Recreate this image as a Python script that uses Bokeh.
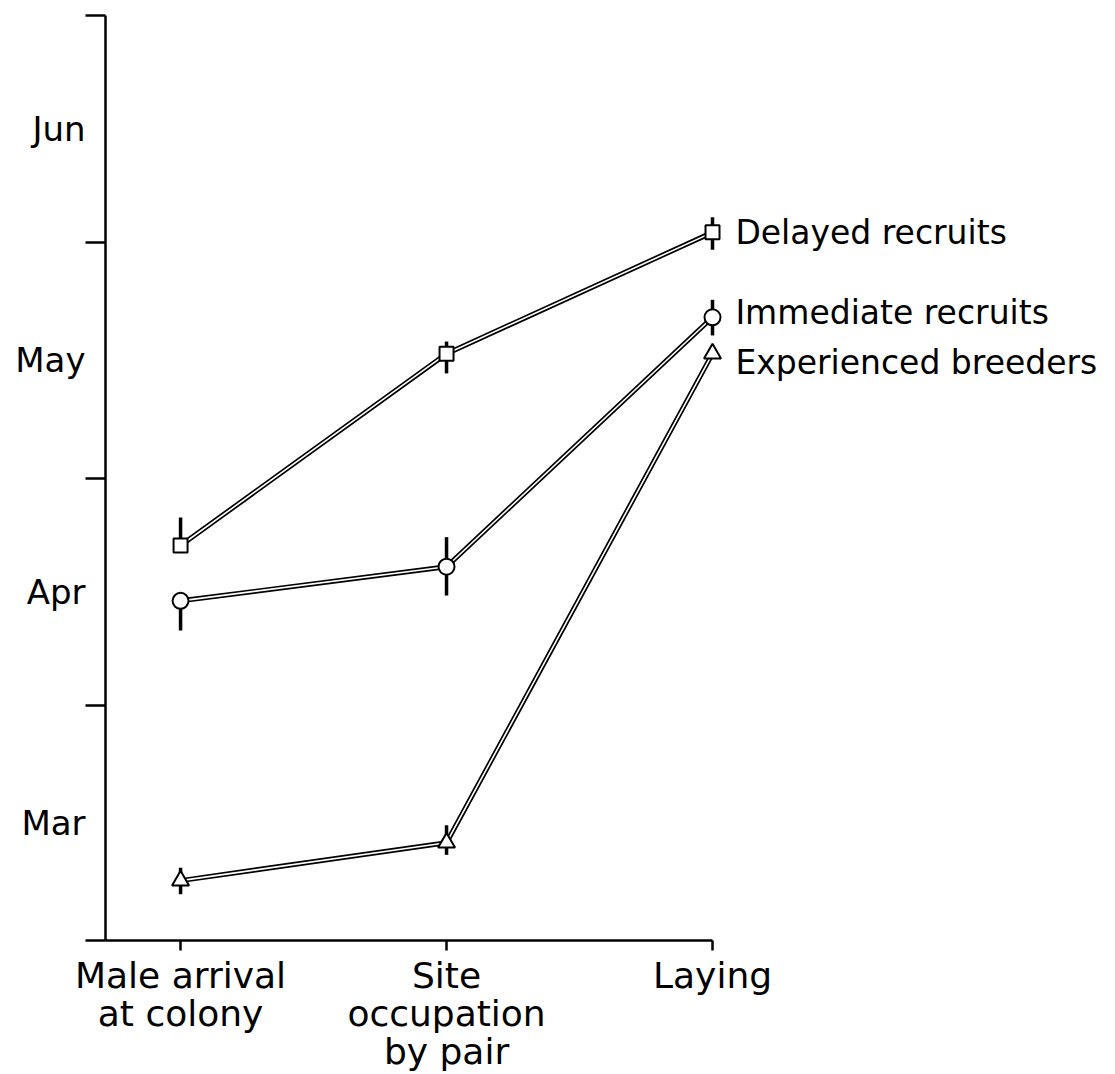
from bokeh.plotting import figure
from bokeh.models import FixedTicker, Range1d
from bokeh.core.properties import value
from bokeh.embed import file_html
from bokeh.resources import INLINE

# ---- data (y = days after 1 March) ----
stages = ["Male arrival\nat colony", "Site\noccupation\nby pair", "Laying"]
stage_x = [0, 1, 2]

delayed = [52.1, 77.4, 93.4]
delayed_lo = [52.1, 74.8, 91.1]
delayed_hi = [55.8, 79.0, 95.4]

immediate = [44.8, 49.3, 82.2]
immediate_lo = [40.9, 45.5, 79.8]
immediate_hi = [44.8, 53.2, 84.5]

experienced = [7.9, 12.9, 77.4]
experienced_lo = [6.1, 11.3, 77.4]
experienced_hi = [9.6, 15.2, 77.4]

series_names = ["Delayed recruits", "Immediate recruits", "Experienced breeders"]

month_names = ["Mar", "Apr", "May", "Jun"]
month_starts = [0, 31, 61, 92, 122]
month_mids = [15.5, 46.0, 76.5, 107.0]

FONT = "DejaVu Sans"
X0 = -0.282  # position of the vertical axis on the stage scale

p = figure(width=1099, height=1072, output_backend="svg", toolbar_location=None,
           x_range=Range1d(-0.677, 3.455), y_range=Range1d(-17.41, 123.98),
           min_border_left=0, min_border_right=0, min_border_top=0, min_border_bottom=0)
p.outline_line_color = None
p.grid.visible = False
p.background_fill_color = "white"

# x axis (at day 0)
p.xaxis.fixed_location = 0
p.xaxis.ticker = FixedTicker(ticks=stage_x)
p.xaxis.major_label_overrides = {float(k): s for k, s in zip(stage_x, stages)}
p.xaxis.bounds = (X0, 2)
p.xaxis.major_tick_out = 10
p.xaxis.major_tick_in = 0
p.xaxis.minor_tick_line_color = None
p.xaxis.axis_line_width = 2.5
p.xaxis.major_tick_line_width = 2.5
p.xaxis.major_label_text_font = FONT
p.xaxis.major_label_text_font_size = "36px"
p.xaxis.major_label_text_color = "black"
p.xaxis.major_label_text_line_height = 0.92
p.xaxis.major_label_standoff = 5

# y axis: month names at mid-month, ticks at month boundaries
p.yaxis.fixed_location = X0
p.yaxis.ticker = FixedTicker(ticks=month_mids, minor_ticks=month_starts)
p.yaxis.major_label_overrides = {float(k): s for k, s in zip(month_mids, month_names)}
p.yaxis.bounds = (0, 122)
p.yaxis.major_tick_out = 0
p.yaxis.major_tick_in = 0
p.yaxis.minor_tick_out = 20
p.yaxis.minor_tick_in = 0
p.yaxis.minor_tick_line_width = 2.5
p.yaxis.axis_line_width = 2.5
p.yaxis.major_label_text_font = FONT
p.yaxis.major_label_text_font_size = "34px"
p.yaxis.major_label_text_color = "black"
p.yaxis.major_label_standoff = 0

series = [
    (delayed, delayed_lo, delayed_hi, "square", 14),
    (immediate, immediate_lo, immediate_hi, "circle", 16),
    (experienced, experienced_lo, experienced_hi, "triangle", 17),
]

for ys, lo, hi, mk, sz in series:
    p.line(stage_x, ys, line_width=5, line_color="black")
    p.line(stage_x, ys, line_width=1.6, line_color="white")
for ys, lo, hi, mk, sz in series:
    p.segment(x0=stage_x, y0=lo, x1=stage_x, y1=hi, line_width=3.5, line_color="black")
for ys, lo, hi, mk, sz in series:
    p.scatter(stage_x, ys, marker=mk, size=sz, fill_color="white",
              line_color="black", line_width=2)

label_dy = [0.0, 0.6, -1.2]
label_x = [2.086] * 3
label_y = [s[0][-1] + d for s, d in zip(series, label_dy)]
p.text(x=label_x, y=label_y, text=series_names, text_font=value(FONT),
       text_font_size="33px", text_baseline="middle", text_align="left",
       text_color="black")

open("out.html", "w").write(file_html(p, INLINE))
